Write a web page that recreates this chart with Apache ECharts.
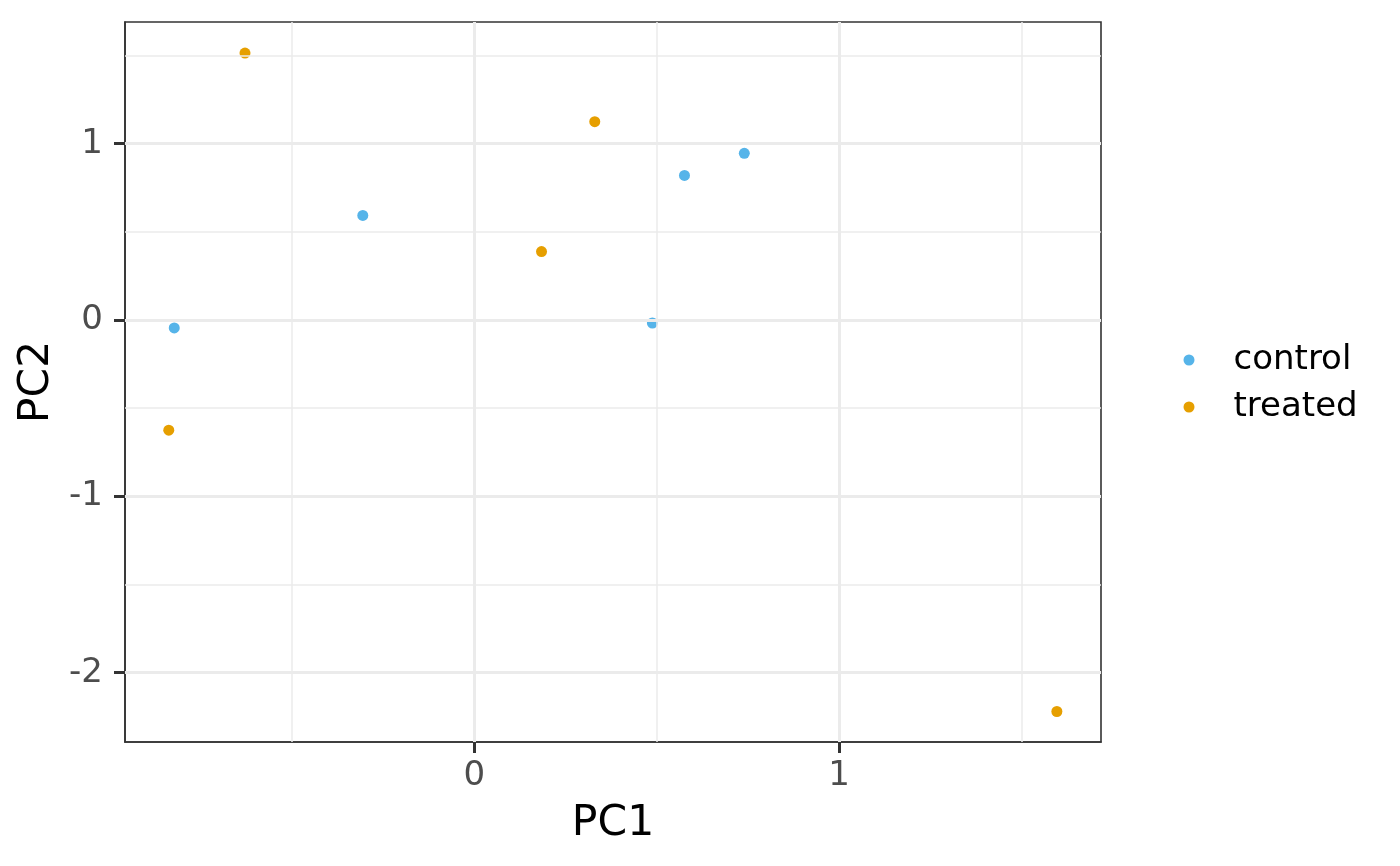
<!DOCTYPE html>
<html>
<head>
<meta charset="utf-8">
<script src="https://cdn.jsdelivr.net/npm/echarts@6/dist/echarts.min.js"></script>
<style>
html,body{margin:0;padding:0;background:#fff;}
#chart{width:1400px;height:866px;}
</style>
</head>
<body>
<div id="chart"></div>
<script>
// Data
const groups = ['control', 'treated'];
const controlPC1 = [-0.823, -0.306, 0.488, 0.576, 0.740];
const controlPC2 = [-0.045, 0.593, -0.017, 0.820, 0.945];
const treatedPC1 = [-0.629, -0.838, 0.184, 0.330, 1.597];
const treatedPC2 = [1.514, -0.625, 0.388, 1.125, -2.220];
const xTickLabels = [0, 1];
const yTickLabels = [-2, -1, 0, 1];
const xMajorGrid = [0, 1];
const xMinorGrid = [-0.5, 0.5, 1.5];
const yMajorGrid = [-2, -1, 0, 1];
const yMinorGrid = [-1.5, -0.5, 0.5, 1.5];
const xRange = [-0.958, 1.718];
const yRange = [-2.393, 1.690];

const colors = {control: '#56B4E9', treated: '#E69F00'};
const FONT = 'DejaVu Sans';

function zip(xs, ys) { return xs.map((x, i) => [x, ys[i]]); }

const gridLines = [];
xMinorGrid.forEach(v => gridLines.push({xAxis: v, lineStyle: {width: 1.5, color: '#EBEBEB', type: 'solid'}}));
yMinorGrid.forEach(v => gridLines.push({yAxis: v, lineStyle: {width: 1.5, color: '#EBEBEB', type: 'solid'}}));
xMajorGrid.forEach(v => gridLines.push({xAxis: v, lineStyle: {width: 3, color: '#EBEBEB', type: 'solid'}}));
yMajorGrid.forEach(v => gridLines.push({yAxis: v, lineStyle: {width: 3, color: '#EBEBEB', type: 'solid'}}));

const chart = echarts.init(document.getElementById('chart'), null, {renderer: 'canvas'});
chart.setOption({
  animation: false,
  backgroundColor: '#fff',
  textStyle: {fontFamily: FONT},
  grid: {left: 125, right: 299, top: 22, bottom: 124, show: true, borderColor: '#333333', borderWidth: 1.6, backgroundColor: 'transparent'},
  xAxis: {
    type: 'value', min: xRange[0], max: xRange[1],
    name: 'PC1', nameLocation: 'middle', nameGap: 60,
    nameTextStyle: {fontFamily: FONT, fontSize: 42.5, color: '#000'},
    axisLine: {show: true, onZero: false, lineStyle: {color: '#333333', width: 1.6}},
    axisTick: {show: true, customValues: xTickLabels, length: 11, inside: false, lineStyle: {color: '#333333', width: 3}},
    axisLabel: {customValues: xTickLabels, fontFamily: FONT, fontSize: 34, color: '#4D4D4D', margin: 17},
    splitLine: {show: false}
  },
  yAxis: {
    type: 'value', min: yRange[0], max: yRange[1],
    name: 'PC2', nameLocation: 'middle', nameGap: 66, nameRotate: 90,
    nameTextStyle: {fontFamily: FONT, fontSize: 42.5, color: '#000'},
    axisLine: {show: true, onZero: false, lineStyle: {color: '#333333', width: 1.6}},
    axisTick: {show: true, customValues: yTickLabels, length: 11, inside: false, lineStyle: {color: '#333333', width: 3}},
    axisLabel: {customValues: yTickLabels, fontFamily: FONT, fontSize: 34, color: '#4D4D4D', margin: 22, padding: [4, 0, 0, 0]},
    splitLine: {show: false}
  },
  legend: {
    orient: 'vertical', left: 1178.5, top: 338,
    itemWidth: 11, itemHeight: 11, itemGap: 13,
    icon: 'circle',
    data: groups,
    textStyle: {fontFamily: FONT, fontSize: 34, color: '#000', lineHeight: 34, padding: [0, 0, 0, 34]}
  },
  series: [
    {
      type: 'scatter', name: '_grid', data: [], z: 1, silent: true,
      markLine: {silent: true, symbol: ['none', 'none'], label: {show: false}, emphasis: {disabled: true}, animation: false, data: gridLines}
    },
    {
      type: 'scatter', name: groups[0], data: zip(controlPC1, controlPC2), z: 3,
      symbol: 'circle', symbolSize: 11, itemStyle: {color: colors.control, opacity: 1}
    },
    {
      type: 'scatter', name: groups[1], data: zip(treatedPC1, treatedPC2), z: 3,
      symbol: 'circle', symbolSize: 11, itemStyle: {color: colors.treated, opacity: 1}
    }
  ]
});
</script>
</body>
</html>
